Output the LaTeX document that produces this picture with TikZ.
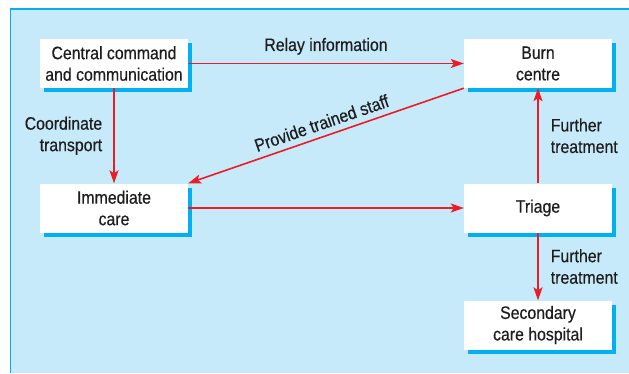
\documentclass[tikz,border=0pt]{standalone}
\usepackage{fontspec}
\setmainfont{Liberation Sans}[FakeStretch=0.88,FakeBold=0.4]
\usetikzlibrary{arrows.meta,positioning}

\definecolor{panelblue}{RGB}{199,234,250}
\definecolor{edgecyan}{RGB}{0,176,240}
\definecolor{flowred}{RGB}{237,28,36}
\definecolor{inkgrey}{RGB}{30,28,28}

\begin{document}
\begin{tikzpicture}[x=1pt,y=1pt,
	font=\fontsize{18}{21.5}\selectfont,
	unit/.style={fill=white,minimum width=148pt,minimum height=49pt,inner sep=0pt,
		align=center,text=inkgrey},
	shade/.style={fill=edgecyan,minimum width=148pt,minimum height=49pt,inner sep=0pt},
	flow/.style={draw=flowred,line width=1.6pt,-{Stealth[length=13pt,width=9pt,inset=3pt]}},
	note/.style={text=inkgrey,inner sep=0pt}]
	\useasboundingbox (0,0) rectangle (629,373);
	% panel
	\fill[panelblue] (10,0) rectangle (629,364);
	\draw[edgecyan,line width=1.5pt] (10.25,0)--(10.25,363.75)--(629,363.75);

	% shadows
	\foreach \px/\py in {114/309.5, 538/309.5, 114/165, 538/165, 538/48}
		\node[shade] at (\px+4,\py-4) {};

	% boxes
	\node[unit] (cmd) at (114,309.5) {Central command\\and communication};
	\node[unit] (burn) at (538,309.5) {Burn\\centre};
	\node[unit] (care) at (114,165) {Immediate\\care};
	\node[unit] (triage) at (538,165) {Triage};
	\node[unit] (hosp) at (538,48) {Secondary\\care hospital};

	% connectors
	\draw[flow] (cmd) -- node[note,above=8pt] (relay) {Relay information} (burn);
	\draw[flow] (cmd) -- node[note,left=11pt,align=right] (coord) {Coordinate\\transport} (care);
	\draw[flow] (burn.south west) -- node[note,sloped,above=6pt] (staff) {Provide trained staff} (care.north east);
	\draw[flow] (care) -- (triage);
	\draw[flow] (triage) -- node[note,right=12pt,align=left] (up) {Further\\treatment} (burn);
	\draw[flow] (triage) -- node[note,right=12pt,align=left] (down) {Further\\treatment} (hosp);
\end{tikzpicture}
\end{document}
